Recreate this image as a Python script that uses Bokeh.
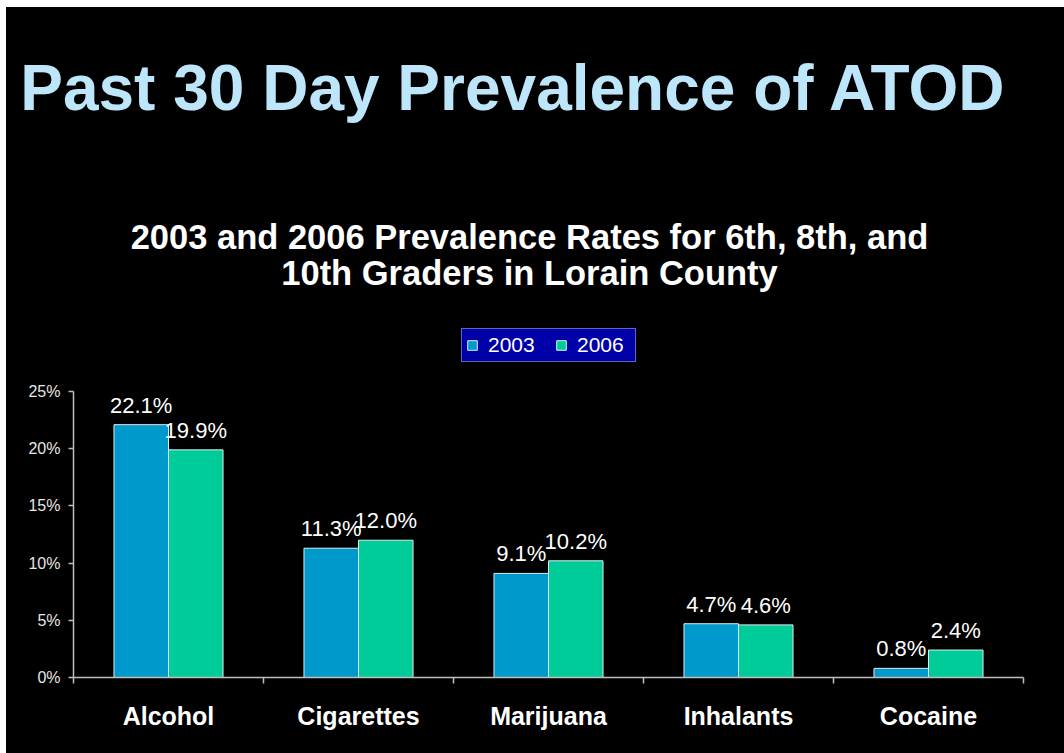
import numpy as np
from bokeh.plotting import figure
from bokeh.models import (ColumnDataSource, Range1d, LinearAxis, FixedTicker,
                          PrintfTickFormatter, Label, LabelSet, Legend, LegendItem)
from bokeh.core.properties import value
from bokeh.embed import file_html
from bokeh.resources import INLINE

# ---- data ----
title_text = "Past 30 Day Prevalence of ATOD"
subtitle_lines = ["2003 and 2006 Prevalence Rates for 6th, 8th, and",
                  "10th Graders in Lorain County"]
categories = ["Alcohol", "Cigarettes", "Marijuana", "Inhalants", "Cocaine"]
years = ["2003", "2006"]
values_2003 = [22.1, 11.3, 9.1, 4.7, 0.8]
values_2006 = [19.9, 12.0, 10.2, 4.6, 2.4]
y_ticks = [0, 5, 10, 15, 20, 25]
colors = ["#0099CC", "#00CC99"]

FONT = "Liberation Sans"
W, H = 1058, 746           # canvas (page has 6px left / 7px top white margin)
BOTTOM = 76                 # pixels below the value axis zero line
PLOT_H = 286                # pixel height of the 0..25% value scale
PX_PER_CAT = 190            # pixel width of one category slot
LEFT_PX = 67                # pixels from canvas left to value axis

n = len(categories)
y_max = y_ticks[-1]
ppu = PLOT_H / y_max
y_start = -BOTTOM / ppu
y_end = (H - BOTTOM) / ppu
x_start = -LEFT_PX / PX_PER_CAT
x_end = (W - LEFT_PX) / PX_PER_CAT

p = figure(width=W, height=H, output_backend="svg", toolbar_location=None,
           x_range=Range1d(x_start, x_end), y_range=Range1d(y_start, y_end),
           x_axis_type=None, y_axis_type=None,
           min_border_left=0, min_border_right=0,
           min_border_top=0, min_border_bottom=0,
           background_fill_color="black", border_fill_color="black",
           outline_line_color=None)
p.margin = (7, 0, 0, 6)
p.styles = {"background-color": "black"}
p.grid.visible = False

idx = np.arange(n)
bw = 0.287
offsets = [-bw / 2, bw / 2]
renderers = []
for yr, vals, off, col in zip(years, [values_2003, values_2006], offsets, colors):
    src = ColumnDataSource(dict(x=idx + 0.5 + off, top=vals,
                                lab=[f"{v:.1f}%" for v in vals]))
    r = p.vbar(x="x", top="top", bottom=0, width=bw, source=src,
               fill_color=col, line_color="#DDEEEE", line_width=1)
    renderers.append(r)
    p.add_layout(LabelSet(x="x", y="top", text="lab", source=src, y_offset=12,
                          text_align="center", text_baseline="alphabetic",
                          text_color="white", text_font=value(FONT),
                          text_font_size=value("22px")))

# x axis: labels at centres, ticks at category boundaries
xaxis = LinearAxis(
    ticker=FixedTicker(ticks=[float(i + 0.5) for i in idx],
                       minor_ticks=[float(i) for i in range(n + 1)]),
    major_label_overrides={float(i + 0.5): c for i, c in enumerate(categories)},
    fixed_location=0, bounds=(0, n),
    axis_line_color="#BFBFBF", axis_line_width=1.5,
    major_tick_line_color=None, major_tick_in=0, major_tick_out=0,
    minor_tick_line_color="#BFBFBF", minor_tick_in=0, minor_tick_out=6,
    minor_tick_line_width=1.5,
    major_label_standoff=18, major_label_text_font=FONT,
    major_label_text_font_size="25px", major_label_text_font_style="bold",
    major_label_text_color="white")
p.add_layout(xaxis, "below")

yaxis = LinearAxis(
    ticker=FixedTicker(ticks=y_ticks, minor_ticks=[]),
    formatter=PrintfTickFormatter(format="%d%%"),
    fixed_location=0, bounds=(0, y_max),
    axis_line_color="#BFBFBF", axis_line_width=1.5,
    major_tick_line_color="#BFBFBF", major_tick_in=0, major_tick_out=5,
    major_tick_line_width=1.5, minor_tick_line_color=None,
    major_label_standoff=8, major_label_text_font=FONT,
    major_label_text_font_size="16px", major_label_text_color="#E6E6E6")
p.add_layout(yaxis, "left")

# titles (screen px relative to frame bottom-left)
p.add_layout(Label(x=507, y=666, x_units="screen", y_units="screen",
                   text=title_text, text_font=FONT, text_font_size="64px",
                   text_font_style="bold", text_color="#BEE6FA",
                   text_align="center", text_baseline="alphabetic"))
for line, yy in zip(subtitle_lines, [517, 481]):
    p.add_layout(Label(x=523, y=yy, x_units="screen", y_units="screen",
                       text=line, text_font=FONT, text_font_size="34.5px",
                       text_font_style="bold", text_color="white",
                       text_align="center", text_baseline="alphabetic"))

legend = Legend(items=[LegendItem(label=yr, renderers=[r]) for yr, r in zip(years, renderers)],
                location=(455, 391), orientation="horizontal",
                background_fill_color="#0000A8", background_fill_alpha=1,
                border_line_color="#C8C8C8", border_line_width=1.5,
                label_text_color="white", label_text_font=FONT,
                label_text_font_size="21px", padding=4, spacing=13,
                glyph_width=12, glyph_height=12, label_standoff=10,
                label_width=54, label_height=20, margin=0)
p.add_layout(legend)

open("out.html", "w").write(file_html(p, INLINE))
